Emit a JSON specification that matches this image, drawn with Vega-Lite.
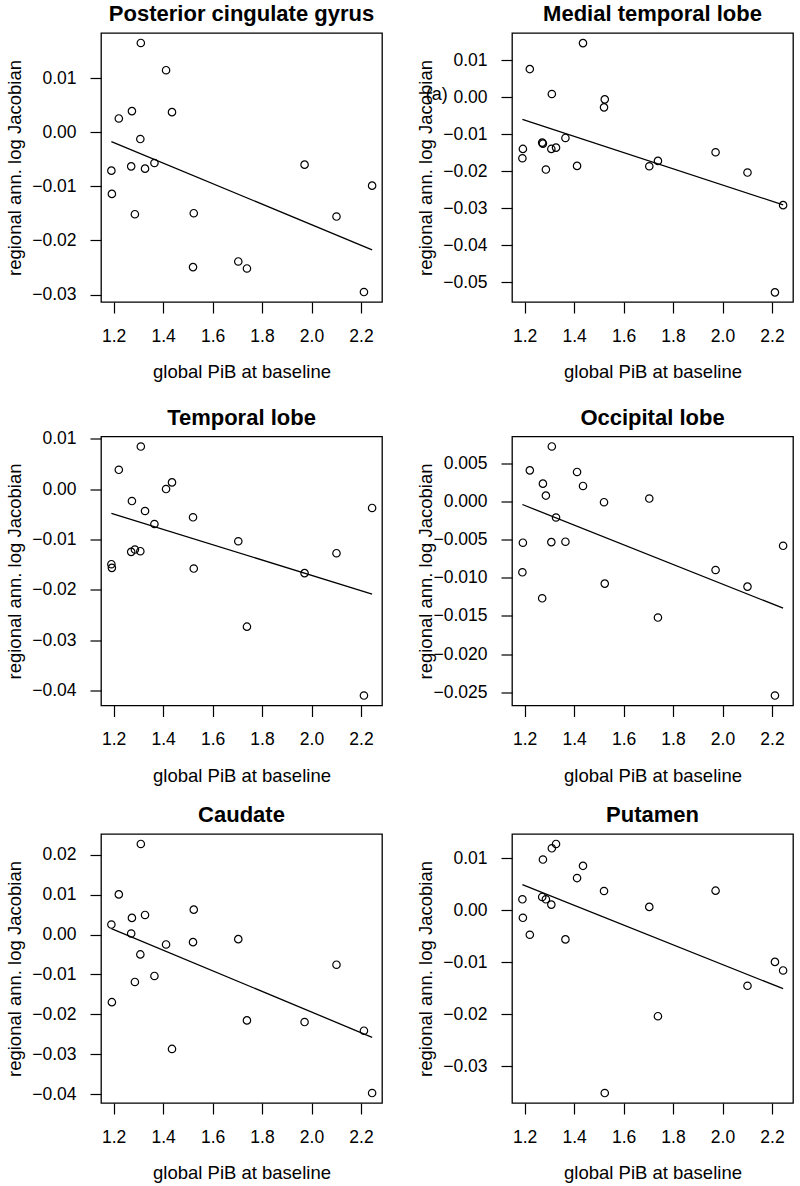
{
  "$schema": "https://vega.github.io/schema/vega-lite/v6.json",
  "background": "white",
  "padding": {"left": 4, "top": 2, "right": 0, "bottom": 0},
  "datasets": {
    "pts": [
      {"pib": 1.191, "pcg": -0.00708, "mtl": -0.01655, "tl": -0.01493, "ol": -0.00930, "cau": 0.00249, "put": 0.00210},
      {"pib": 1.193, "pcg": -0.01138, "mtl": -0.01403, "tl": -0.01565, "ol": -0.00543, "cau": -0.01692, "put": -0.00146},
      {"pib": 1.221, "pcg": 0.00258, "mtl": 0.00755, "tl": 0.00383, "ol": 0.00404, "cau": 0.01003, "put": -0.00471},
      {"pib": 1.271, "pcg": -0.00628, "mtl": -0.01232, "tl": -0.01248, "ol": -0.01270, "cau": 0.00025, "put": 0.00254},
      {"pib": 1.274, "pcg": 0.00394, "mtl": -0.01259, "tl": -0.00238, "ol": 0.00230, "cau": 0.00415, "put": 0.00973},
      {"pib": 1.286, "pcg": -0.01514, "mtl": -0.01960, "tl": -0.01202, "ol": 0.00074, "cau": -0.01186, "put": 0.00210},
      {"pib": 1.308, "pcg": -0.00123, "mtl": -0.01403, "tl": -0.01235, "ol": -0.00535, "cau": -0.00498, "put": 0.00108},
      {"pib": 1.310, "pcg": 0.01655, "mtl": 0.00081, "tl": 0.00845, "ol": 0.00717, "cau": 0.02264, "put": 0.01189},
      {"pib": 1.327, "pcg": -0.00671, "mtl": -0.01367, "tl": -0.00436, "ol": -0.00213, "cau": 0.00489, "put": 0.01272},
      {"pib": 1.365, "pcg": -0.00566, "mtl": -0.01106, "tl": -0.00694, "ol": -0.00530, "cau": -0.01037, "put": -0.00560},
      {"pib": 1.412, "pcg": 0.01151, "mtl": -0.01862, "tl": 0.00000, "ol": 0.00383, "cau": -0.00249, "put": 0.00617},
      {"pib": 1.436, "pcg": 0.00375, "mtl": 0.01457, "tl": 0.00132, "ol": 0.00200, "cau": -0.02861, "put": 0.00852},
      {"pib": 1.521, "pcg": -0.02492, "mtl": -0.00279, "tl": -0.00561, "ol": -0.00013, "cau": -0.00191, "put": 0.00369},
      {"pib": 1.524, "pcg": -0.01495, "mtl": -0.00063, "tl": -0.01579, "ol": -0.01078, "cau": 0.00622, "put": -0.03510},
      {"pib": 1.704, "pcg": -0.02388, "mtl": -0.01871, "tl": -0.01037, "ol": 0.00035, "cau": -0.00116, "put": 0.00064},
      {"pib": 1.739, "pcg": -0.02517, "mtl": -0.01727, "tl": -0.02734, "ol": -0.01522, "cau": -0.02148, "put": -0.02035},
      {"pib": 1.972, "pcg": -0.00597, "mtl": -0.01493, "tl": -0.01671, "ol": -0.00900, "cau": -0.02189, "put": 0.00375},
      {"pib": 2.101, "pcg": -0.01557, "mtl": -0.02041, "tl": -0.01275, "ol": -0.01117, "cau": -0.00755, "put": -0.01450},
      {"pib": 2.212, "pcg": -0.02954, "mtl": -0.05279, "tl": -0.04102, "ol": -0.02543, "cau": -0.02405, "put": -0.00992},
      {"pib": 2.245, "pcg": -0.00985, "mtl": -0.02923, "tl": -0.00376, "ol": -0.00583, "cau": -0.03964, "put": -0.01157}
    ],
    "fit": [
      {"pib": 1.191, "pcg": -0.00172, "mtl": -0.00603, "tl": -0.00482, "ol": -0.00043, "cau": 0.00149, "put": 0.00490},
      {"pib": 2.245, "pcg": -0.02172, "mtl": -0.02914, "tl": -0.02087, "ol": -0.01400, "cau": -0.02570, "put": -0.01507}
    ],
    "notes": [
      {"pib": 0.845, "mtl": 0.0005, "label": "(a)"}
    ]
  },
  "spacing": 17,
  "vconcat": [
    {
      "spacing": 23.5,
      "vconcat": [
        {
          "spacing": 32,
          "hconcat": [
            {
              "width": 281, "height": 269,
              "title": {"text": "Posterior cingulate gyrus"},
              "layer": [
                {"data": {"name": "pts"}, "mark": {"type": "point", "shape": "circle", "filled": false, "color": "black", "size": 55, "strokeWidth": 1.2, "opacity": 1},
                 "encoding": {
                   "x": {"field": "pib", "type": "quantitative", "scale": {"domain": [1.149, 2.285], "nice": false, "zero": false}, "axis": {"values": [1.2, 1.4, 1.6, 1.8, 2.0, 2.2], "format": ".1f", "title": "global PiB at baseline"}},
                   "y": {"field": "pcg", "type": "quantitative", "scale": {"domain": [-0.03138, 0.01839], "nice": false, "zero": false}, "axis": {"values": [-0.03, -0.02, -0.01, 0, 0.01], "format": ".2f", "title": "regional ann. log Jacobian", "titleX": -81, "titleBaseline": "alphabetic"}}
                 }},
                {"data": {"name": "fit"}, "mark": {"type": "line", "color": "black", "strokeWidth": 1.3},
                 "encoding": {"x": {"field": "pib", "type": "quantitative"}, "y": {"field": "pcg", "type": "quantitative"}}}
              ]
            },
            {
              "width": 281, "height": 269,
              "title": {"text": "Medial temporal lobe"},
              "layer": [
                {"data": {"name": "pts"}, "mark": {"type": "point", "shape": "circle", "filled": false, "color": "black", "size": 55, "strokeWidth": 1.2, "opacity": 1},
                 "encoding": {
                   "x": {"field": "pib", "type": "quantitative", "scale": {"domain": [1.149, 2.285], "nice": false, "zero": false}, "axis": {"values": [1.2, 1.4, 1.6, 1.8, 2.0, 2.2], "format": ".1f", "title": "global PiB at baseline"}},
                   "y": {"field": "mtl", "type": "quantitative", "scale": {"domain": [-0.0554, 0.0173], "nice": false, "zero": false}, "axis": {"values": [-0.05, -0.04, -0.03, -0.02, -0.01, 0, 0.01], "format": ".2f", "title": "regional ann. log Jacobian", "titleX": -81, "titleBaseline": "alphabetic"}}
                 }},
                {"data": {"name": "fit"}, "mark": {"type": "line", "color": "black", "strokeWidth": 1.3},
                 "encoding": {"x": {"field": "pib", "type": "quantitative"}, "y": {"field": "mtl", "type": "quantitative"}}},
                {"data": {"name": "notes"}, "mark": {"type": "text", "font": "Liberation Sans", "fontSize": 18, "color": "black"},
                 "encoding": {"x": {"field": "pib", "type": "quantitative"}, "y": {"field": "mtl", "type": "quantitative"}, "text": {"field": "label"}}}
              ]
            }
          ]
        },
        {
          "spacing": 32,
          "hconcat": [
            {
              "width": 281, "height": 269,
              "title": {"text": "Temporal lobe", "offset": 0},
              "layer": [
                {"data": {"name": "pts"}, "mark": {"type": "point", "shape": "circle", "filled": false, "color": "black", "size": 55, "strokeWidth": 1.2, "opacity": 1},
                 "encoding": {
                   "x": {"field": "pib", "type": "quantitative", "scale": {"domain": [1.149, 2.285], "nice": false, "zero": false}, "axis": {"values": [1.2, 1.4, 1.6, 1.8, 2.0, 2.2], "format": ".1f", "title": "global PiB at baseline"}},
                   "y": {"field": "tl", "type": "quantitative", "scale": {"domain": [-0.0430, 0.01044], "nice": false, "zero": false}, "axis": {"values": [-0.04, -0.03, -0.02, -0.01, 0, 0.01], "format": ".2f", "title": "regional ann. log Jacobian", "titleX": -81, "titleBaseline": "alphabetic"}}
                 }},
                {"data": {"name": "fit"}, "mark": {"type": "line", "color": "black", "strokeWidth": 1.3},
                 "encoding": {"x": {"field": "pib", "type": "quantitative"}, "y": {"field": "tl", "type": "quantitative"}}}
              ]
            },
            {
              "width": 281, "height": 269,
              "title": {"text": "Occipital lobe"},
              "layer": [
                {"data": {"name": "pts"}, "mark": {"type": "point", "shape": "circle", "filled": false, "color": "black", "size": 55, "strokeWidth": 1.2, "opacity": 1},
                 "encoding": {
                   "x": {"field": "pib", "type": "quantitative", "scale": {"domain": [1.149, 2.285], "nice": false, "zero": false}, "axis": {"values": [1.2, 1.4, 1.6, 1.8, 2.0, 2.2], "format": ".1f", "title": "global PiB at baseline"}},
                   "y": {"field": "ol", "type": "quantitative", "scale": {"domain": [-0.02673, 0.00847], "nice": false, "zero": false}, "axis": {"values": [-0.025, -0.02, -0.015, -0.01, -0.005, 0, 0.005], "format": ".3f", "title": "regional ann. log Jacobian", "titleX": -81, "titleBaseline": "alphabetic"}}
                 }},
                {"data": {"name": "fit"}, "mark": {"type": "line", "color": "black", "strokeWidth": 1.3},
                 "encoding": {"x": {"field": "pib", "type": "quantitative"}, "y": {"field": "ol", "type": "quantitative"}}}
              ]
            }
          ]
        }
      ]
    },
    {
      "spacing": 32,
      "hconcat": [
        {
          "width": 281, "height": 269,
          "title": {"text": "Caudate"},
          "layer": [
            {"data": {"name": "pts"}, "mark": {"type": "point", "shape": "circle", "filled": false, "color": "black", "size": 55, "strokeWidth": 1.2, "opacity": 1},
             "encoding": {
               "x": {"field": "pib", "type": "quantitative", "scale": {"domain": [1.149, 2.285], "nice": false, "zero": false}, "axis": {"values": [1.2, 1.4, 1.6, 1.8, 2.0, 2.2], "format": ".1f", "title": "global PiB at baseline"}},
               "y": {"field": "cau", "type": "quantitative", "scale": {"domain": [-0.04213, 0.02513], "nice": false, "zero": false}, "axis": {"values": [-0.04, -0.03, -0.02, -0.01, 0, 0.01, 0.02], "format": ".2f", "title": "regional ann. log Jacobian", "titleX": -81, "titleBaseline": "alphabetic"}}
             }},
            {"data": {"name": "fit"}, "mark": {"type": "line", "color": "black", "strokeWidth": 1.3},
             "encoding": {"x": {"field": "pib", "type": "quantitative"}, "y": {"field": "cau", "type": "quantitative"}}}
          ]
        },
        {
          "width": 281, "height": 269,
          "title": {"text": "Putamen"},
          "layer": [
            {"data": {"name": "pts"}, "mark": {"type": "point", "shape": "circle", "filled": false, "color": "black", "size": 55, "strokeWidth": 1.2, "opacity": 1},
             "encoding": {
               "x": {"field": "pib", "type": "quantitative", "scale": {"domain": [1.149, 2.285], "nice": false, "zero": false}, "axis": {"values": [1.2, 1.4, 1.6, 1.8, 2.0, 2.2], "format": ".1f", "title": "global PiB at baseline"}},
               "y": {"field": "put", "type": "quantitative", "scale": {"domain": [-0.03701, 0.01463], "nice": false, "zero": false}, "axis": {"values": [-0.03, -0.02, -0.01, 0, 0.01], "format": ".2f", "title": "regional ann. log Jacobian", "titleX": -81, "titleBaseline": "alphabetic"}}
             }},
            {"data": {"name": "fit"}, "mark": {"type": "line", "color": "black", "strokeWidth": 1.3},
             "encoding": {"x": {"field": "pib", "type": "quantitative"}, "y": {"field": "put", "type": "quantitative"}}}
          ]
        }
      ]
    }
  ],
  "config": {
    "view": {"stroke": "black", "strokeWidth": 1.3},
    "axis": {"domain": false, "grid": false, "tickColor": "black", "tickSize": 11, "tickWidth": 1.2, "labelColor": "black", "labelFont": "Liberation Sans", "labelFontSize": 17.5, "labelFlush": false, "labelOverlap": false, "titleFont": "Liberation Sans", "titleFontSize": 18.5, "titleFontWeight": "normal", "titleColor": "black"},
    "axisX": {"labelPadding": 14, "titlePadding": 18},
    "axisY": {"labelPadding": 14},
    "title": {"font": "Liberation Sans", "fontSize": 22, "fontWeight": "bold", "color": "black", "offset": 6.7, "baseline": "alphabetic"}
  }
}
